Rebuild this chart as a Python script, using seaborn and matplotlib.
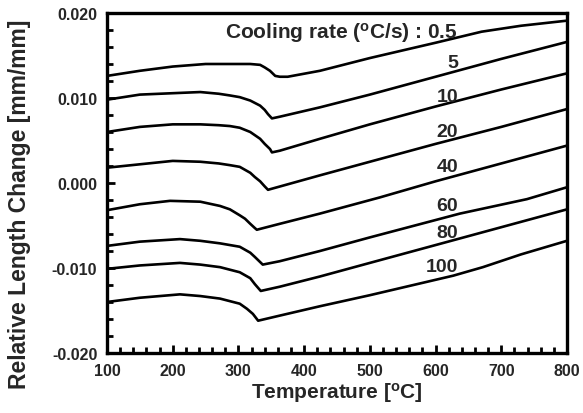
import matplotlib
matplotlib.use("Agg")
import matplotlib.pyplot as plt
from matplotlib.ticker import MultipleLocator, FormatStrFormatter
import numpy as np
import pandas as pd
import seaborn as sns

# ---- data ----
rates = ["0.5", "5", "10", "20", "40", "60", "80", "100"]

t_05 = [100, 150, 200, 250, 300, 318, 333, 340, 348, 356, 363, 375, 424, 500, 600, 670, 730, 800]
v_05 = [0.0126, 0.0132, 0.0137, 0.0140, 0.0140, 0.0140, 0.0139, 0.0136, 0.0132, 0.0126,
        0.0125, 0.0125, 0.0132, 0.0147, 0.0165, 0.0178, 0.0185, 0.0191]

t_5 = [100, 150, 211, 242, 270, 287, 302, 318, 333, 340, 345, 351, 363, 424, 500, 600, 700, 800]
v_5 = [0.0098, 0.0104, 0.0106, 0.0107, 0.0105, 0.0103, 0.0101, 0.0097, 0.0091, 0.0086,
       0.0081, 0.0076, 0.0078, 0.0089, 0.0104, 0.0125, 0.0146, 0.0166]

t_10 = [100, 150, 200, 242, 270, 287, 302, 318, 333, 340, 348, 351, 363, 424, 500, 600, 700, 800]
v_10 = [0.0060, 0.0066, 0.0069, 0.0069, 0.0068, 0.0067, 0.0065, 0.0060, 0.0052, 0.0046,
        0.0040, 0.0036, 0.0038, 0.0052, 0.0069, 0.0090, 0.0110, 0.0129]

t_20 = [100, 150, 200, 242, 270, 287, 302, 318, 325, 333, 340, 345, 424, 500, 600, 700, 800]
v_20 = [0.0018, 0.0022, 0.0026, 0.0025, 0.0023, 0.0021, 0.0019, 0.0012, 0.0007, 0.0002,
        -0.0004, -0.0008, 0.0009, 0.0025, 0.0046, 0.0066, 0.0087]

t_40 = [100, 150, 196, 242, 272, 287, 302, 310, 318, 325, 328, 363, 424, 515, 600, 700, 800]
v_40 = [-0.0032, -0.0025, -0.0021, -0.0022, -0.0027, -0.0031, -0.0038, -0.0042, -0.0048,
        -0.0053, -0.0055, -0.0048, -0.0036, -0.0017, 0.0002, 0.0023, 0.0044]

t_60 = [100, 150, 211, 242, 272, 302, 318, 325, 333, 337, 363, 424, 500, 637, 739, 800]
v_60 = [-0.0074, -0.0069, -0.0066, -0.0068, -0.0071, -0.0075, -0.0082, -0.0087, -0.0093,
        -0.0096, -0.0092, -0.0080, -0.0064, -0.0036, -0.0019, -0.0005]

t_80 = [100, 150, 211, 242, 272, 302, 318, 325, 334, 363, 424, 500, 600, 700, 800]
v_80 = [-0.0101, -0.0097, -0.0094, -0.0096, -0.0099, -0.0105, -0.0112, -0.0119, -0.0127,
        -0.0122, -0.0110, -0.0094, -0.0073, -0.0052, -0.0031]

t_100 = [100, 150, 211, 242, 272, 302, 313, 322, 330, 363, 424, 500, 627, 672, 730, 800]
v_100 = [-0.0140, -0.0135, -0.0131, -0.0133, -0.0136, -0.0142, -0.0148, -0.0154, -0.0162,
         -0.0156, -0.0145, -0.0132, -0.0109, -0.0099, -0.0084, -0.0068]

temps = [t_05, t_5, t_10, t_20, t_40, t_60, t_80, t_100]
vals = [v_05, v_5, v_10, v_20, v_40, v_60, v_80, v_100]

label_y = [0.0178, 0.0142, 0.0102, 0.0061, 0.0019, -0.0027, -0.0058, -0.0098]
label_x = 634

x_ticks = [100, 200, 300, 400, 500, 600, 700, 800]
y_ticks = [-0.020, -0.010, 0.000, 0.010, 0.020]

frames = []
for r, t, v in zip(rates, temps, vals):
    frames.append(pd.DataFrame({"T": t, "dL": v, "rate": r}))
df = pd.concat(frames, ignore_index=True)

# ---- style ----
sns.set_style("ticks")
plt.rcParams["font.family"] = ["Liberation Sans", "DejaVu Sans"]
plt.rcParams["font.weight"] = "bold"
plt.rcParams["mathtext.fontset"] = "custom"
plt.rcParams["mathtext.rm"] = "Liberation Sans:bold"
plt.rcParams["mathtext.bf"] = "Liberation Sans:bold"
plt.rcParams["mathtext.it"] = "Liberation Sans:bold"

fig = plt.figure(figsize=(5.83, 4.14), dpi=100)
ax = fig.add_axes([107 / 583, 1 - 354 / 414, 460 / 583, 340 / 414])

sns.lineplot(data=df, x="T", y="dL", hue="rate", palette=["black"] * len(rates),
             hue_order=rates, estimator=None, sort=False, legend=False,
             linewidth=1.9, ax=ax)

ax.set_xlim(100, 800)
ax.set_ylim(-0.020, 0.020)
ax.set_xticks(x_ticks)
ax.set_yticks(y_ticks)
ax.xaxis.set_minor_locator(MultipleLocator(20))
ax.yaxis.set_minor_locator(MultipleLocator(0.002))
ax.yaxis.set_major_formatter(FormatStrFormatter("%.3f"))
ax.tick_params(which="both", direction="in", width=2, top=False, right=False,
               color="black")
ax.tick_params(which="major", length=6, labelsize=11.5, pad=7)
ax.tick_params(which="minor", length=4)
for lab in ax.get_xticklabels() + ax.get_yticklabels():
    lab.set_fontweight("bold")
for s in ax.spines.values():
    s.set_linewidth(2.4)
    s.set_color("black")

ax.set_xlabel(r"Temperature [$^{\mathrm{o}}$C]", fontsize=15, fontweight="bold", labelpad=2)
ax.set_ylabel("Relative Length Change [mm/mm]", fontsize=16.5, fontweight="bold")
ax.yaxis.set_label_coords(-0.165, 0.44)

ax.text(label_x, label_y[0], r"Cooling rate ($^{\mathrm{o}}$C/s) : " + rates[0],
        ha="right", va="center", fontsize=15, fontweight="bold")
for r, y in zip(rates[1:], label_y[1:]):
    ax.text(label_x, y, r, ha="right", va="center", fontsize=14, fontweight="bold")

fig.savefig("out.png", dpi=100)
